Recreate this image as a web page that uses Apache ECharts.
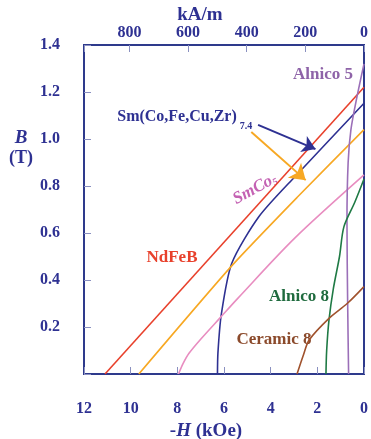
<!DOCTYPE html>
<html><head><meta charset="utf-8">
<script src="https://cdn.jsdelivr.net/npm/echarts@6/dist/echarts.min.js"></script>
<style>html,body{margin:0;padding:0;background:#fff}#c{width:371px;height:439px}</style>
</head><body><div id="c"></div>
<script>
// -H in kOe, B in T
const xTicksKOe = [0, 2, 4, 6, 8, 10, 12];
const topTicksKAm = [0, 200, 400, 600, 800];
const yTicks = [0.2, 0.4, 0.6, 0.8, 1.0, 1.2, 1.4];
const ndfeb = [[11.1, 0], [0, 1.22]];
const sm2co17Navy = [[6.28, 0], [6.26, 0.09], [6.12, 0.25], [5.67, 0.47], [4.5, 0.67], [2.91, 0.845], [0, 1.152]];
const sm2co17Orange = [[9.65, 0], [5.67, 0.46], [2.84, 0.754], [0, 1.04]];
const smco5Pink = [[7.95, 0], [7.75, 0.045], [7.5, 0.088], [7.0, 0.148], [6.16, 0.24], [5.41, 0.322], [2.98, 0.577], [0, 0.847]];
const alnico5 = [[0, 1.32], [0.3, 1.18], [0.56, 1.04], [0.68, 0.9], [0.73, 0.65], [0.7, 0.3], [0.66, 0]];
const alnico8 = [[0, 0.83], [0.4, 0.73], [0.86, 0.627], [1.05, 0.5], [1.31, 0.365], [1.5, 0.23], [1.6, 0.1], [1.63, 0]];
const ceramic8 = [[2.87, 0], [2.6, 0.08], [2.35, 0.145], [1.5, 0.237], [0.72, 0.30], [0, 0.372]];
const arrowNavy = [[4.54, 1.06], [2.08, 0.957]];
const arrowOrange = [[4.83, 1.03], [2.5, 0.825]];
const KAM_PER_KOE = 79.577;

const NAVY = '#2e3192', AX = '#2e3a8c', TICK = '#8a90c0';
const FONT = '"Liberation Serif", "DejaVu Serif", serif';
const lbl = {color: NAVY, fontFamily: FONT, fontWeight: 'bold', fontSize: 16};

const chart = echarts.init(document.getElementById('c'));
function ser(name, data, color, smooth, extra) {
  return Object.assign({
    name, type: 'line', data, xAxisIndex: 0, yAxisIndex: 0, showSymbol: false, smooth: smooth,
    lineStyle: {color, width: 1.6}, itemStyle: {color}, silent: true, z: 3
  }, extra || {});
}
function arrow(pts, color, size) {
  return {
    silent: true, symbol: ['none', 'arrow'], symbolSize: size, label: {show: false},
    lineStyle: {color, width: 2, type: 'solid'},
    data: [[{coord: pts[0]}, {coord: pts[1]}]]
  };
}
chart.setOption({
  animation: false,
  grid: {left: 84, right: 4, top: 45, bottom: 65, show: true, borderColor: AX, borderWidth: 2, backgroundColor: 'transparent'},
  xAxis: [
    {type: 'value', min: 0, max: 12, interval: 2, inverse: true, position: 'bottom',
     axisLine: {show: true, onZero: false, lineStyle: {color: AX, width: 2}},
     axisTick: {show: true, inside: true, length: 7, lineStyle: {color: TICK}},
     splitLine: {show: false},
     axisLabel: Object.assign({margin: 27, formatter: v => xTicksKOe.includes(v) ? String(v) : ''}, lbl)},
    {type: 'value', min: 0, max: 12 * KAM_PER_KOE, interval: 200, inverse: true, position: 'top',
     axisLine: {show: true, onZero: false, lineStyle: {color: AX, width: 2}},
     axisTick: {show: true, inside: true, length: 7, lineStyle: {color: TICK}},
     splitLine: {show: false}, showMaxLabel: false,
     axisLabel: Object.assign({margin: 4, formatter: v => topTicksKAm.includes(v) ? String(v) : ''}, lbl)}
  ],
  yAxis: [{type: 'value', min: 0, max: 1.4, interval: 0.2, position: 'left',
     axisLine: {show: true, onZero: false, lineStyle: {color: AX, width: 2}},
     axisTick: {show: true, inside: true, length: 7, lineStyle: {color: TICK}},
     splitLine: {show: false},
     axisLabel: Object.assign({margin: 24, formatter: v => yTicks.some(t => Math.abs(t - v) < 1e-6) ? v.toFixed(1) : ''}, lbl)}],
  series: [
    ser('NdFeB', ndfeb, '#e8412c', false),
    ser('Sm2Co17 navy', sm2co17Navy, '#2e3192', 0.25, {markLine: arrow(arrowNavy, '#2e3192', 13)}),
    ser('Sm2Co17 orange', sm2co17Orange, '#f7a823', 0.2, {markLine: arrow(arrowOrange, '#f7a823', 15)}),
    ser('SmCo5', smco5Pink, '#e88dc0', 0.3),
    ser('Alnico 5', alnico5, '#9b6fb8', 0.3),
    ser('Alnico 8', alnico8, '#1f7a45', 0.3),
    ser('Ceramic 8', ceramic8, '#a0522d', 0.3)
  ],
  graphic: [
    {type: 'text', style: {text: 'kA/m', x: 200, y: 15, align: 'center', verticalAlign: 'middle', fill: NAVY, font: 'bold 19px ' + FONT}},
    {type: 'text', style: {rich: {n: {fontFamily: FONT, fontWeight: 'bold', fontSize: 19, fill: NAVY}, i: {fontFamily: FONT, fontWeight: 'bold', fontStyle: 'italic', fontSize: 19, fill: NAVY}}, text: '{n|-}{i|H}{n| (kOe)}', x: 206, y: 431, align: 'center', verticalAlign: 'middle'}},
    {type: 'text', style: {text: 'B', x: 21, y: 138, align: 'center', verticalAlign: 'middle', fill: NAVY, font: 'italic bold 19px ' + FONT}},
    {type: 'text', style: {text: '(T)', x: 21, y: 158, align: 'center', verticalAlign: 'middle', fill: NAVY, font: 'bold 18px ' + FONT}},
    {type: 'text', style: {text: 'Alnico 5', x: 323, y: 75, align: 'center', verticalAlign: 'middle', fill: '#8e63a8', font: 'bold 17px ' + FONT}},
    {type: 'text', style: {text: 'Sm(Co,Fe,Cu,Zr)', x: 177, y: 117, align: 'center', verticalAlign: 'middle', fill: NAVY, font: 'bold 16px ' + FONT}},
    {type: 'text', style: {text: '7.4', x: 246, y: 126, align: 'center', verticalAlign: 'middle', fill: NAVY, font: 'bold 10px ' + FONT}},
    {type: 'text', style: {text: 'NdFeB', x: 172, y: 258, align: 'center', verticalAlign: 'middle', fill: '#e8412c', font: 'bold 17px ' + FONT}},
    {type: 'text', style: {text: 'Alnico 8', x: 299, y: 297, align: 'center', verticalAlign: 'middle', fill: '#1f6b3e', font: 'bold 17px ' + FONT}},
    {type: 'text', style: {text: 'Ceramic 8', x: 274, y: 340, align: 'center', verticalAlign: 'middle', fill: '#8b4a2b', font: 'bold 17px ' + FONT}},
    {type: 'text', x: 255, y: 189, rotation: 0.5,
     style: {rich: {a: {fontFamily: FONT, fontWeight: 'bold', fontStyle: 'italic', fontSize: 17, fill: '#c462b3'}, s: {fontFamily: FONT, fontWeight: 'bold', fontStyle: 'italic', fontSize: 10, fill: '#c462b3', padding: [8, 0, 0, 0]}},
       text: '{a|SmCo}{s|5}', x: 0, y: 0, align: 'center', verticalAlign: 'middle'}}
  ]
});
</script></body></html>
